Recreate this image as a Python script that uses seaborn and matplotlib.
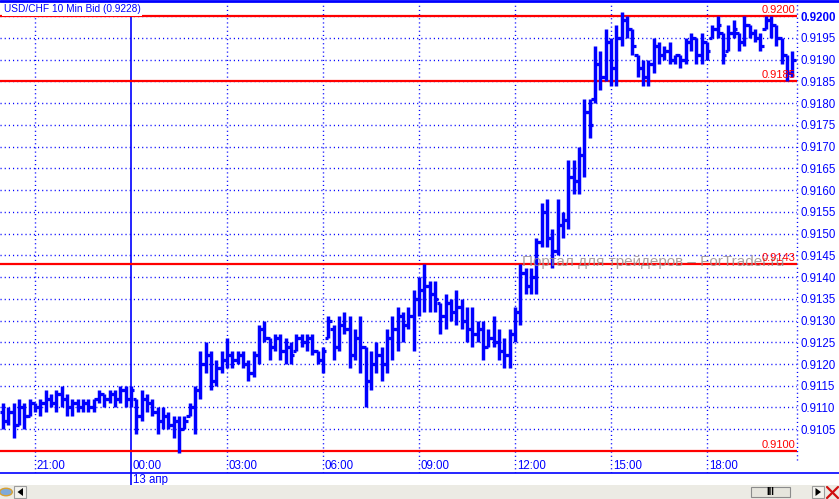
import matplotlib
matplotlib.use("Agg")
import matplotlib.pyplot as plt
import seaborn as sns
import pandas as pd
from matplotlib.patches import Rectangle, Polygon
from matplotlib.lines import Line2D

# 10-min USD/CHF bars, prices in pips above 0.9100
lows = [5, 6, 3, 6, 5, 8, 9, 8, 9, 10, 9, 10, 8, 8, 9, 9, 9, 9, 11, 10, 11, 10, 11, 10,
        10, 4, 7, 9, 8, 4, 5, 5, 3, -0.5, 5, 8, 4, 12, 18, 14, 15, 18, 19, 19, 20, 19, 16, 17,
        20, 25, 21, 23, 21, 20, 20, 23, 24, 23, 22, 20, 18, 26, 21, 23, 27, 19, 21, 18, 10, 14, 18, 16,
        18, 21, 23, 25, 28, 23, 31, 32, 32, 32, 27, 28, 30, 29, 28, 25, 24, 25, 21, 24, 24, 21, 19, 19,
        25, 29, 36, 36, 36, 47, 47, 42, 45, 49, 51, 59, 59, 63, 72, 80, 83, 85, 84, 84, 93, 95, 91, 86,
        84, 84, 87, 89, 90, 89, 89, 88, 89, 92, 89, 89, 90, 95, 95, 89, 92, 95, 92, 93, 95, 94, 92, 97, 95, 93, 89, 85, 86]
highs = [11, 10, 11, 12, 11, 12, 11, 12, 14, 13, 14, 15, 13, 12, 12, 12, 12, 12, 14, 13, 14, 14, 15, 15,
         15, 12, 14, 13, 12, 10, 10, 9, 8, 8, 8, 11, 15, 23, 25, 23, 21, 23, 26, 23, 23, 23, 21, 23,
         29, 30, 26, 27, 27, 26, 25, 27, 27, 27, 27, 23, 24, 31, 29, 31, 32, 31, 28, 31, 24, 23, 25, 24,
         28, 31, 33, 32, 33, 37, 40, 43, 39, 39, 34, 36, 35, 37, 35, 33, 33, 30, 30, 28, 31, 28, 26, 28,
         33, 43, 42, 42, 49, 57, 58, 51, 58, 55, 67, 67, 70, 81, 81, 93, 92, 97, 95, 98, 101, 100, 97, 91,
         90, 90, 95, 94, 93, 94, 91, 91, 95, 96, 95, 96, 94, 98, 100, 96, 98, 99, 96, 100, 98, 97, 96, 100, 100, 98, 95, 91, 92]
opens = [9, 7, 9, 6, 10, 8, 11, 10, 11, 12, 11, 13, 12, 10, 11, 10, 11, 10, 12, 13, 12, 13, 12, 14,
         12, 12, 8, 12, 11, 9, 7, 8, 6, 7, 5, 8, 10, 14, 20, 22, 16, 19, 21, 22, 21, 22, 20, 18,
         22, 28, 26, 24, 26, 23, 24, 23, 26, 25, 26, 23, 21, 26, 28, 24, 29, 28, 22, 26, 24, 16, 20, 22,
         20, 26, 28, 31, 29, 31, 35, 37, 38, 36, 34, 31, 34, 32, 33, 30, 28, 27, 28, 24, 26, 25, 23, 22,
         27, 32, 41, 38, 40, 48, 55, 49, 46, 52, 53, 63, 62, 68, 78, 81, 89, 86, 94, 88, 95, 99, 97, 91,
         88, 86, 89, 93, 91, 92, 90, 91, 90, 94, 95, 91, 94, 95, 97, 96, 92, 96, 96, 94, 98, 96, 95, 97, 99, 98, 95, 91, 87]
closes = [7, 9, 6, 10, 8, 11, 10, 11, 12, 11, 13, 12, 10, 11, 10, 11, 10, 12, 13, 12, 13, 12, 14, 12,
          14, 8, 12, 11, 9, 7, 8, 6, 7, 5, 7, 10, 14, 20, 22, 16, 19, 21, 22, 21, 22, 20, 18, 22,
          28, 26, 24, 26, 23, 24, 22, 26, 25, 26, 23, 21, 23, 30, 24, 29, 28, 22, 26, 24, 16, 20, 22, 20,
          26, 28, 31, 29, 31, 35, 37, 38, 36, 35, 31, 34, 32, 33, 30, 28, 27, 28, 24, 26, 25, 23, 22, 27,
          32, 41, 38, 40, 48, 55, 49, 46, 52, 53, 63, 62, 68, 78, 75, 89, 86, 94, 88, 95, 99, 97, 93, 88,
          86, 89, 93, 91, 92, 90, 91, 90, 94, 95, 91, 94, 92, 97, 98, 91, 96, 97, 94, 98, 96, 95, 93, 99, 98, 95, 91, 87, 90]

time_ticks = [6, 24, 42, 60, 78, 96, 114, 132]
time_labels = ["21:00", "00:00", "03:00", "06:00", "09:00", "12:00", "15:00", "18:00"]
day_break = 24
day_label = "13 апр"

price_ticks = [0.9105 + 0.0005 * k for k in range(20)]
levels = [0.9200, 0.9185, 0.9143, 0.9100]

BLUE = "#0000FF"
RED = "#FF0000"

df = pd.DataFrame({"open": opens, "high": highs, "low": lows, "close": closes}) / 10000 + 0.9100
df["bar"] = range(len(df))

sns.set_theme(style="white")
plt.rcParams["font.family"] = ["Liberation Sans", "DejaVu Sans"]

W, H = 839, 499
fig = plt.figure(figsize=(W / 100, H / 100), dpi=100)
fig.patch.set_facecolor("white")
ax = fig.add_axes([0, 26 / H, 797 / W, 470 / H])
ax.set_facecolor("white")
for s in ax.spines.values():
    s.set_visible(False)

# price axis on the right
ax.yaxis.tick_right()
ax.set_yticks(price_ticks)
ax.set_yticklabels([f"{p:.4f}" for p in price_ticks], color=BLUE, fontsize=8.3)
ax.yaxis.get_ticklabels()[-1].set_fontweight("bold")
ax.tick_params(axis="y", length=0, pad=2.5)
ax.set_xticks([])
ax.set_xlim(-0.5625, 148.9)
ax.set_ylim(0.909494, 0.920300)

dots = (0, (0.8, 2.2))
# grid
for p in price_ticks:
    ax.axhline(p, color=BLUE, lw=1, ls=dots, zorder=1)
for t in time_ticks:
    if t == day_break:
        ax.axvline(t, ymin=-0.026, ymax=1, color=BLUE, lw=1.2, zorder=1, clip_on=False)
    else:
        ax.axvline(t, color=BLUE, lw=1, ls=dots, zorder=1)
ax.plot([1, 1], [13 / 470, 1], transform=ax.transAxes, color=BLUE, lw=1, ls=dots, clip_on=False)

# support / resistance lines
for lv in levels:
    ax.axhline(lv, color=RED, lw=1.6, zorder=2)

# OHLC bars
ax.vlines(df["bar"], df["low"], df["high"], color=BLUE, lw=2.5, zorder=3)
ax.hlines(df["open"], df["bar"] - 0.65, df["bar"], color=BLUE, lw=2.3, zorder=3)
ax.hlines(df["close"], df["bar"], df["bar"] + 0.65, color=BLUE, lw=2.3, zorder=3)

# watermark
ax.text(97.3, 0.91435, "Портал для трейдеров – ForTrader.ru", color="#9a9090", alpha=0.85,
        fontsize=11, va="center", ha="left", zorder=4, clip_on=True)

# level labels
for lv in levels:
    ax.text(0.9975, lv + 0.00003, f"{lv:.4f}", transform=ax.get_yaxis_transform(),
            color=RED, fontsize=8, ha="right", va="bottom", zorder=5)

# time labels
for t, lab in zip(time_ticks, time_labels):
    ax.text(t + 0.35, 7 / 470, lab, transform=ax.get_xaxis_transform(), color=BLUE,
            fontsize=8.3, ha="left", va="center")
ax.text(day_break + 0.35, -7 / 470, day_label, transform=ax.get_xaxis_transform(),
        color=BLUE, fontsize=8.3, ha="left", va="center", clip_on=False)

# title box
ax.text(4 / 797, 1 - 6 / 470, "USD/CHF 10 Min Bid (0.9228)", transform=ax.transAxes,
        color=BLUE, fontsize=7.3, ha="left", va="center", zorder=6,
        bbox=dict(facecolor="white", edgecolor="none", pad=1.2))


def fx(x):
    return x / W


def fy(y):
    return 1 - y / H


# frame lines
fig.add_artist(Line2D([0, 1], [fy(1), fy(1)], color=BLUE, lw=2))
fig.add_artist(Line2D([0, 1], [fy(473), fy(473)], color=BLUE, lw=1.2))

# scrollbar strip
fig.add_artist(Rectangle((0, 0), 1, fy(485), transform=fig.transFigure, facecolor="#ECEBE4", edgecolor="none"))
fig.add_artist(Rectangle((fx(14), fy(498)), fx(12), fy(486) - fy(498), transform=fig.transFigure,
                         facecolor="#F4F3EE", edgecolor="#9c9c9c", lw=0.8))
fig.add_artist(Polygon([[fx(23), fy(488)], [fx(23), fy(496)], [fx(17.5), fy(492)]], closed=True,
                       transform=fig.transFigure, facecolor="black", edgecolor="none"))
fig.add_artist(Rectangle((fx(751), fy(497)), fx(39), fy(487) - fy(497), transform=fig.transFigure,
                         facecolor="#E6E5DD", edgecolor="#8c8c8c", lw=0.8))
fig.text(fx(770.5), fy(492), "III", color="black", fontsize=7, fontweight="bold", ha="center", va="center")
fig.add_artist(Rectangle((fx(812), fy(498)), fx(12), fy(486) - fy(498), transform=fig.transFigure,
                         facecolor="#F4F3EE", edgecolor="#9c9c9c", lw=0.8))
fig.add_artist(Polygon([[fx(815.5), fy(488)], [fx(815.5), fy(496)], [fx(821), fy(492)]], closed=True,
                       transform=fig.transFigure, facecolor="black", edgecolor="none"))
fig.add_artist(Line2D([fx(827), fx(838)], [fy(487), fy(498)], color="#D01010", lw=1.6))
fig.add_artist(Line2D([fx(827), fx(838)], [fy(498), fy(487)], color="#D01010", lw=1.6))
fig.add_artist(plt.Circle((fx(6), fy(492)), 0.0075, transform=fig.transFigure,
                          facecolor="#7FA9D8", edgecolor="#D8A030", lw=1))

fig.savefig("out.png", dpi=100)
